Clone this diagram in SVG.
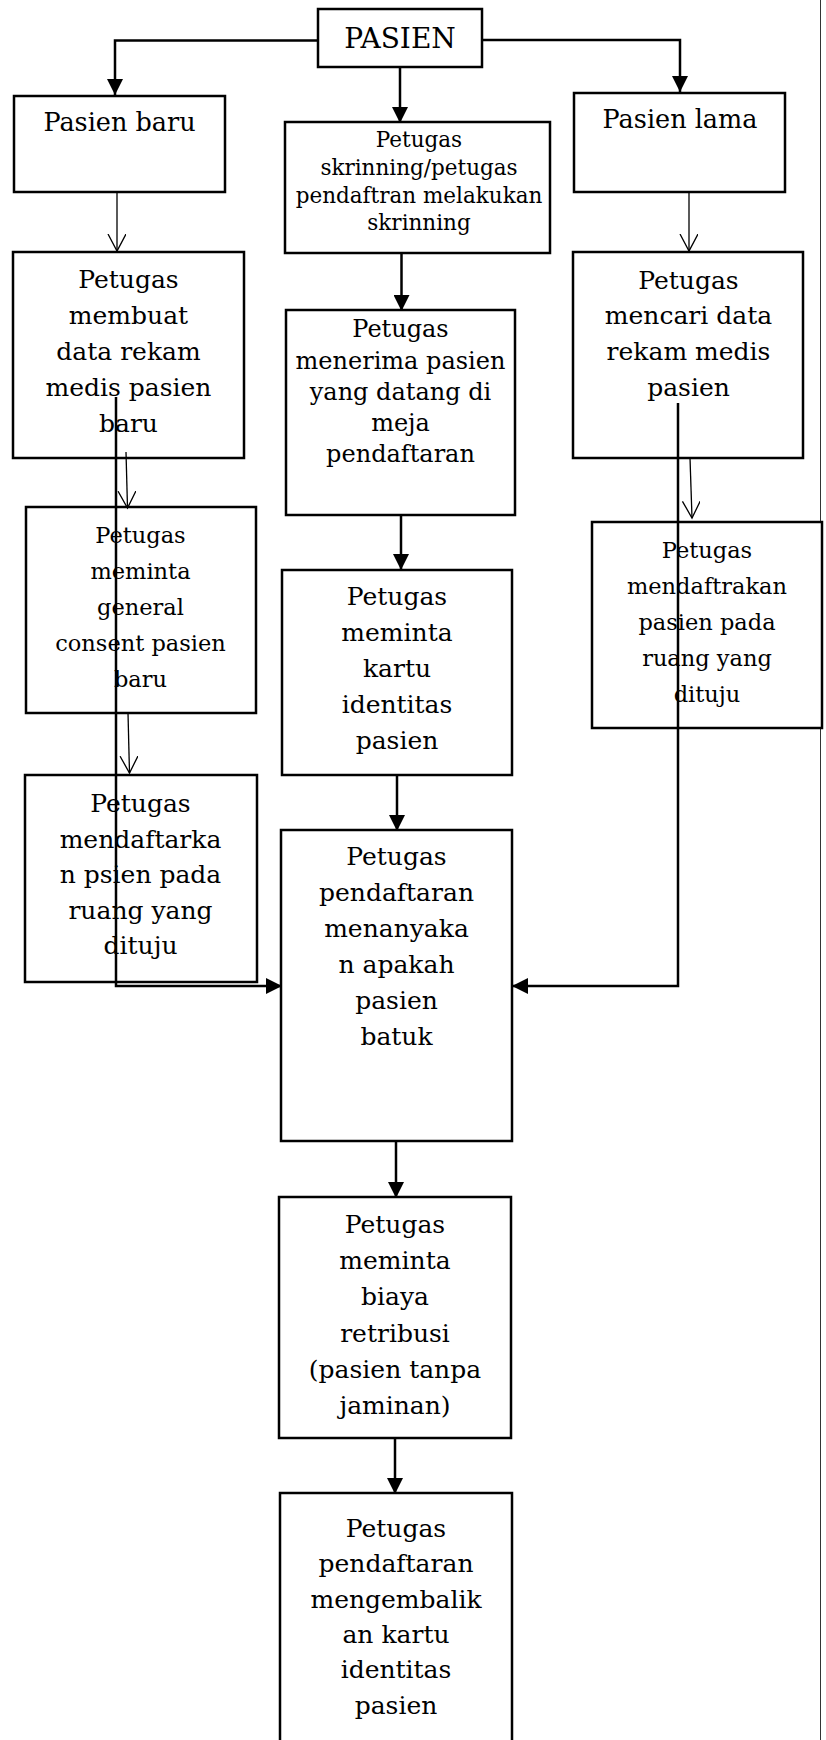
<svg xmlns="http://www.w3.org/2000/svg" width="826" height="1740" viewBox="0 0 826 1740">
<style>
.box{fill:#fff;stroke:#000;stroke-width:2.5}
.t{font-family:"DejaVu Serif","Liberation Serif",serif;fill:#000;text-anchor:middle}
.thick{fill:none;stroke:#000;stroke-width:2.5}
.thin{fill:none;stroke:#000;stroke-width:1.3}
</style>
<defs>
<marker id="fa" markerUnits="userSpaceOnUse" markerWidth="16" markerHeight="16" refX="16" refY="8" orient="auto">
<path d="M0,0 L16,8 L0,16 z" fill="#000"/>
</marker>
<marker id="va" markerUnits="userSpaceOnUse" markerWidth="19" markerHeight="20" refX="17" refY="9" orient="auto">
<path d="M0,0 L17,9 L0,18" fill="none" stroke="#000" stroke-width="1.3"/>
</marker>
</defs>
<rect width="826" height="1740" fill="#fff"/>
<line x1="820.5" y1="0" x2="820.5" y2="1740" stroke="#333" stroke-width="1"/>

<g id="pasien">
<rect class="box" x="318" y="9" width="164" height="58"/>
<text class="t" x="400" y="48" font-size="28">PASIEN</text>
</g>
<g id="pasien-baru">
<rect class="box" x="14" y="96" width="211" height="96"/>
<text class="t" x="119.5" y="131" font-size="25.5">Pasien baru</text>
</g>
<g id="pasien-lama">
<rect class="box" x="574" y="93" width="211" height="99"/>
<text class="t" x="680" y="128" font-size="25.5">Pasien lama</text>
</g>
<g id="skrinning">
<rect class="box" x="285" y="122" width="265" height="131"/>
<text class="t" font-size="21.5"><tspan x="419" y="147">Petugas</tspan><tspan x="419" y="175">skrinning/petugas</tspan><tspan x="419" y="203">pendaftran melakukan</tspan><tspan x="419" y="230">skrinning</tspan></text>
</g>
<g id="membuat">
<rect class="box" x="13" y="252" width="231" height="206"/>
<text class="t" font-size="25"><tspan x="128.5" y="288">Petugas</tspan><tspan x="128.5" y="324">membuat</tspan><tspan x="128.5" y="360">data rekam</tspan><tspan x="128.5" y="396">medis pasien</tspan><tspan x="128.5" y="432">baru</tspan></text>
</g>
<g id="menerima">
<rect class="box" x="286" y="310" width="229" height="205"/>
<text class="t" font-size="24"><tspan x="400.5" y="337">Petugas</tspan><tspan x="400.5" y="368.5">menerima pasien</tspan><tspan x="400.5" y="400">yang datang di</tspan><tspan x="400.5" y="431">meja</tspan><tspan x="400.5" y="462">pendaftaran</tspan></text>
</g>
<g id="mencari">
<rect class="box" x="573" y="252" width="230" height="206"/>
<text class="t" font-size="25"><tspan x="688.5" y="288.5">Petugas</tspan><tspan x="688.5" y="324">mencari data</tspan><tspan x="688.5" y="360">rekam medis</tspan><tspan x="688.5" y="395.5">pasien</tspan></text>
</g>
<g id="consent">
<rect class="box" x="26" y="507" width="230" height="206"/>
<text class="t" font-size="22.5"><tspan x="140.5" y="543">Petugas</tspan><tspan x="140.5" y="579">meminta</tspan><tspan x="140.5" y="615">general</tspan><tspan x="140.5" y="651">consent pasien</tspan><tspan x="140.5" y="687">baru</tspan></text>
</g>
<g id="kartu">
<rect class="box" x="282" y="570" width="230" height="205"/>
<text class="t" font-size="25"><tspan x="397" y="605">Petugas</tspan><tspan x="397" y="641">meminta</tspan><tspan x="397" y="677">kartu</tspan><tspan x="397" y="713">identitas</tspan><tspan x="397" y="749">pasien</tspan></text>
</g>
<g id="mendaftrakan-lama">
<rect class="box" x="592" y="522" width="230" height="206"/>
<text class="t" font-size="22.5"><tspan x="707" y="558">Petugas</tspan><tspan x="707" y="594">mendaftrakan</tspan><tspan x="707" y="630">pasien pada</tspan><tspan x="707" y="666">ruang yang</tspan><tspan x="707" y="702">dituju</tspan></text>
</g>
<g id="mendaftarkan-baru">
<rect class="box" x="25" y="775" width="232" height="207"/>
<text class="t" font-size="25"><tspan x="140.5" y="812">Petugas</tspan><tspan x="140.5" y="847.5">mendaftarka</tspan><tspan x="140.5" y="883">n psien pada</tspan><tspan x="140.5" y="918.5">ruang yang</tspan><tspan x="140.5" y="954">dituju</tspan></text>
</g>
<g id="menanyakan">
<rect class="box" x="281" y="830" width="231" height="311"/>
<text class="t" font-size="25"><tspan x="396.5" y="865">Petugas</tspan><tspan x="396.5" y="901">pendaftaran</tspan><tspan x="396.5" y="937">menanyaka</tspan><tspan x="396.5" y="973">n apakah</tspan><tspan x="396.5" y="1009">pasien</tspan><tspan x="396.5" y="1045">batuk</tspan></text>
</g>
<g id="retribusi">
<rect class="box" x="279" y="1197" width="232" height="241"/>
<text class="t" font-size="25"><tspan x="395" y="1233">Petugas</tspan><tspan x="395" y="1269">meminta</tspan><tspan x="395" y="1305">biaya</tspan><tspan x="395" y="1342">retribusi</tspan><tspan x="395" y="1378">(pasien tanpa</tspan><tspan x="395" y="1414">jaminan)</tspan></text>
</g>
<g id="mengembalikan">
<rect class="box" x="280" y="1493" width="232" height="260"/>
<text class="t" font-size="25"><tspan x="396" y="1537">Petugas</tspan><tspan x="396" y="1572">pendaftaran</tspan><tspan x="396" y="1607.5">mengembalik</tspan><tspan x="396" y="1643">an kartu</tspan><tspan x="396" y="1678">identitas</tspan><tspan x="396" y="1714">pasien</tspan></text>
</g>

<g id="connectors">
<polyline class="thick" points="318,40.5 115,40.5 115,95" marker-end="url(#fa)"/>
<polyline class="thick" points="482,40 680,40 680,92" marker-end="url(#fa)"/>
<line class="thick" x1="400" y1="67" x2="400" y2="123" marker-end="url(#fa)"/>
<line class="thin" x1="117" y1="192" x2="117" y2="251" marker-end="url(#va)"/>
<line class="thin" x1="689" y1="192" x2="689" y2="251" marker-end="url(#va)"/>
<line class="thick" x1="401.5" y1="253" x2="401.5" y2="311" marker-end="url(#fa)"/>
<line class="thin" x1="126" y1="452" x2="127.5" y2="508" marker-end="url(#va)"/>
<line class="thin" x1="690" y1="458" x2="692" y2="518" marker-end="url(#va)"/>
<line class="thick" x1="401" y1="515" x2="401" y2="570" marker-end="url(#fa)"/>
<line class="thin" x1="128" y1="713" x2="129.5" y2="773" marker-end="url(#va)"/>
<line class="thick" x1="397" y1="775" x2="397" y2="831" marker-end="url(#fa)"/>
<polyline class="thick" points="116,397 116,986 282,986" marker-end="url(#fa)"/>
<polyline class="thick" points="678,403 678,986 512,986" marker-end="url(#fa)"/>
<line class="thick" x1="396" y1="1141" x2="396" y2="1198" marker-end="url(#fa)"/>
<line class="thick" x1="395" y1="1438" x2="395" y2="1494" marker-end="url(#fa)"/>
</g>
</svg>
